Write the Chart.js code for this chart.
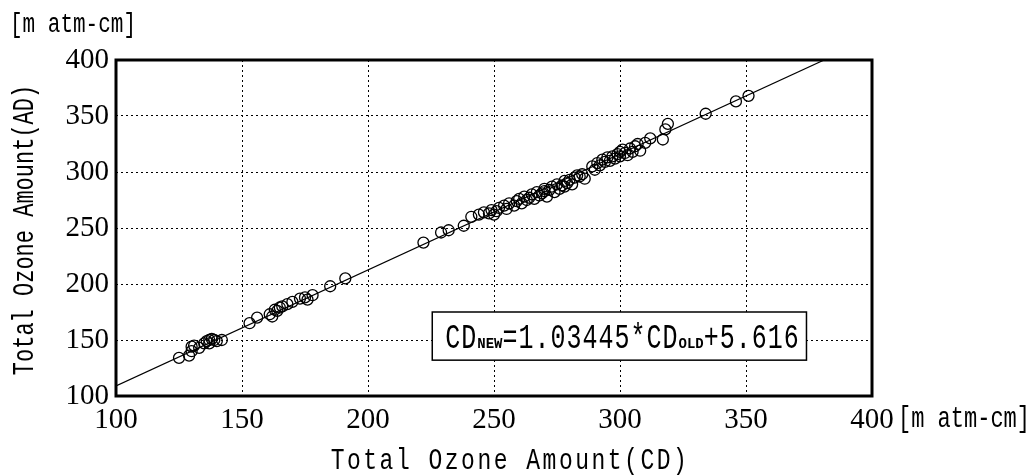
<!DOCTYPE html>
<html>
<head>
<meta charset="utf-8">
<script src="https://cdn.jsdelivr.net/npm/chart.js@4.4.1/dist/chart.umd.min.js"></script>
<style>
  body { margin: 0; background: #fff; }
  #wrap { width: 1036px; height: 476px; }
</style>
</head>
<body>
<div id="wrap"><canvas id="grafico" width="1036" height="476"></canvas></div>
<script>
// --- Dados ---
const cdOld = [125,129,130,130,131,133,135,136,137,137,138,139,140,142,
  153,156,161,162,163,164,165,166,168,170,173,175,176,178,185,191,
  222,229,232,238,
  241,244,246,248,249,250,251,252,254,255,256,258,259,260,261,262,263,264,265,266,267,268,269,270,270,271,272,273,274,275,276,277,278,278,279,280,281,282,283,284,285,286,
  289,290,291,292,293,294,295,296,297,298,299,300,300,301,302,303,304,305,306,307,308,310,312,317,318,319,334,346,351];
const cdNew = [134,136,140,144,145,143,147,149,150,147,151,150,149,150,
  165,170,173,171,177,176,179,180,182,184,187,188,186,190,198,205,
  237,246,248,252,
  260,262,264,263,266,262,265,268,270,267,272,270,274,276,272,278,275,277,280,276,282,279,281,283,285,278,284,287,282,289,285,288,292,287,290,293,289,295,297,296,298,294,
  305,302,308,306,311,309,313,310,314,312,316,318,314,320,317,315,321,318,323,325,319,326,330,329,338,343,352,363,368];

// Reta de regressão (extremos)
const retaX = [100, 381];
const retaY = [109, 400];

const ticksEixo = [100, 150, 200, 250, 300, 350, 400];
const equacao = ['CD', 'NEW', '=1.03445*CD', 'OLD', '+5.616'];

// Caixa da equação em coordenadas de dados
const caixaX = [225.5, 374];
const caixaY = [132, 175];

const pontos = cdOld.map((x, i) => ({ x: x, y: cdNew[i] }));
const reta = retaX.map((x, i) => ({ x: x, y: retaY[i] }));

// Escreve texto esticado na vertical (fonte estreita e alta como no original)
function textoAlto(ctx, txt, x, y, font, esp, esticar, angulo) {
  ctx.save();
  ctx.translate(x, y);
  if (angulo) ctx.rotate(angulo);
  ctx.scale(1, esticar);
  ctx.font = font;
  ctx.letterSpacing = esp;
  ctx.fillText(txt, 0, 0);
  const w = ctx.measureText(txt).width;
  ctx.restore();
  return w;
}

// Desenha moldura, títulos e a caixa da equação
const extras = {
  id: 'extras',
  afterDraw(chart) {
    const ctx = chart.ctx;
    const a = chart.chartArea;
    const sx = chart.scales.x, sy = chart.scales.y;
    ctx.save();

    // caixa da equação
    const bx1 = sx.getPixelForValue(caixaX[0]), bx2 = sx.getPixelForValue(caixaX[1]);
    const by1 = sy.getPixelForValue(caixaY[1]), by2 = sy.getPixelForValue(caixaY[0]);
    ctx.fillStyle = '#fff';
    ctx.fillRect(bx1, by1, bx2 - bx1, by2 - by1);
    ctx.strokeStyle = '#000';
    ctx.lineWidth = 1.5;
    ctx.strokeRect(bx1, by1, bx2 - bx1, by2 - by1);

    ctx.fillStyle = '#000';
    ctx.textBaseline = 'alphabetic';
    ctx.textAlign = 'left';
    let px = bx1 + 13;
    const base = (by1 + by2) / 2 + 12;
    equacao.forEach((txt, i) => {
      const sub = i % 2 === 1;
      px += textoAlto(ctx, txt, px, base,
        sub ? 'bold 14px "Liberation Mono"' : '25px "Liberation Mono"',
        sub ? '0px' : '1px', sub ? 1.1 : 1.4, 0);
    });

    // moldura
    ctx.lineWidth = 3;
    ctx.strokeRect(a.left, a.top, a.right - a.left, a.bottom - a.top);

    // títulos
    ctx.textAlign = 'center';
    ctx.textBaseline = 'middle';
    textoAlto(ctx, 'Total Ozone Amount(CD)', 510, 461,
      '23px "Liberation Mono"', '2.5px', 1.3, 0);
    textoAlto(ctx, 'Total Ozone Amount(AD)', 25, 230,
      '22px "Liberation Mono"', '0px', 1.3, -Math.PI / 2);

    ctx.textAlign = 'left';
    textoAlto(ctx, '[m atm-cm]', 10, 24, '21px "Liberation Mono"', '0px', 1.35, 0);
    textoAlto(ctx, '[m atm-cm]', a.right + 26, a.bottom + 23, '22px "Liberation Mono"', '0px', 1.35, 0);

    ctx.restore();
  }
};

const fonteTicks = { family: '"Liberation Serif"', size: 29 };

new Chart(document.getElementById('grafico').getContext('2d'), {
  type: 'scatter',
  data: {
    datasets: [
      {
        type: 'line',
        data: reta,
        borderColor: '#000',
        borderWidth: 1.2,
        pointRadius: 0,
        fill: false
      },
      {
        data: pontos,
        pointRadius: 5.5,
        pointBorderWidth: 1.3,
        pointBorderColor: '#000',
        pointBackgroundColor: 'rgba(0,0,0,0)'
      }
    ]
  },
  options: {
    responsive: false,
    animation: false,
    layout: { padding: { left: 0, top: 60, right: 164, bottom: 0 } },
    plugins: { legend: { display: false }, tooltip: { enabled: false } },
    scales: {
      x: {
        type: 'linear',
        min: 100, max: 400,
        afterBuildTicks: s => { s.ticks = ticksEixo.map(v => ({ value: v })); },
        afterFit: s => { s.height = 80; },
        grid: { color: '#000', lineWidth: 1, drawTicks: false },
        border: { display: false, dash: [2, 3] },
        ticks: { color: '#000', font: fonteTicks, padding: 7, maxRotation: 0 }
      },
      y: {
        type: 'linear',
        min: 100, max: 400,
        afterBuildTicks: s => { s.ticks = ticksEixo.map(v => ({ value: v })); },
        afterFit: s => { s.width = 116; },
        grid: { color: '#000', lineWidth: 1, drawTicks: false },
        border: { display: false, dash: [2, 3] },
        ticks: { color: '#000', font: fonteTicks, padding: 7 }
      }
    }
  },
  plugins: [extras]
});
</script>
</body>
</html>
